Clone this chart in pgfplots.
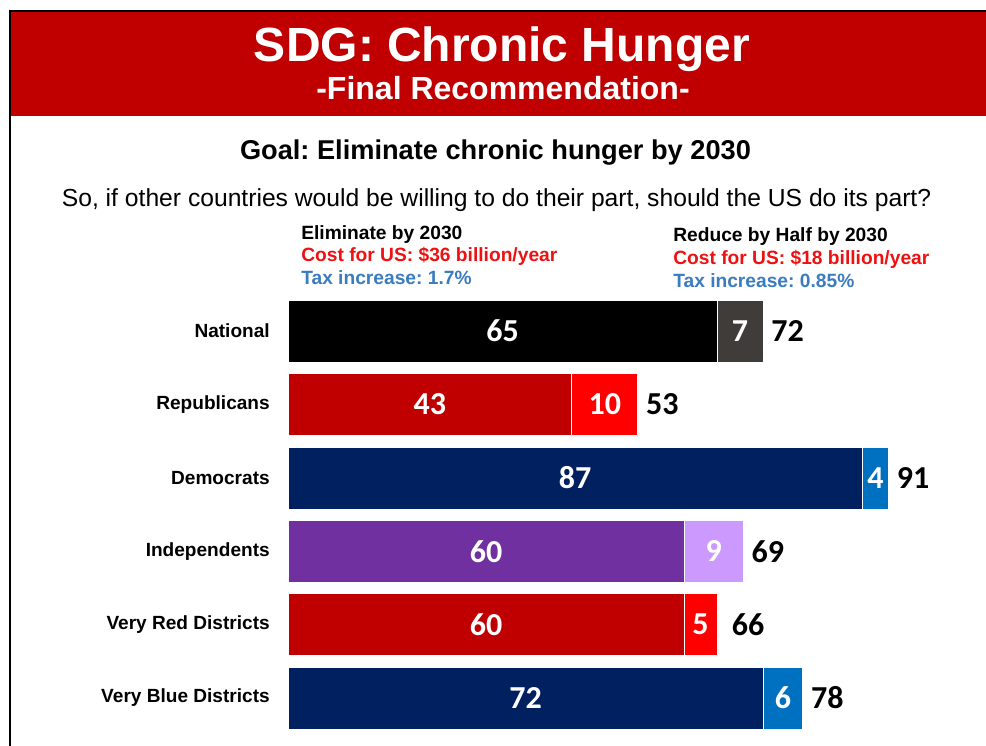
\documentclass[border=0pt]{standalone}
\usepackage{fontspec}
\setmainfont{Liberation Sans}
\newfontfamily\numfont{Carlito}
\usepackage{pgfplots}
\pgfplotsset{compat=1.18}
\frenchspacing
\definecolor{bannerred}{HTML}{C00000}
\definecolor{costred}{HTML}{EE1111}
\definecolor{taxblue}{HTML}{3B7CC0}
\definecolor{natd}{HTML}{000000}
\definecolor{natl}{HTML}{403C3A}
\definecolor{repd}{HTML}{C00000}
\definecolor{repl}{HTML}{FF0000}
\definecolor{demd}{HTML}{002060}
\definecolor{deml}{HTML}{0070C0}
\definecolor{indd}{HTML}{7030A0}
\definecolor{indl}{HTML}{CC99FF}
\pgfplotsset{
  rowaxis/.style={
    xbar stacked, scale only axis, width=495pt, height=55.05pt,
    xmin=0, xmax=100, ymin=-0.5, ymax=0.5, enlargelimits=false,
    bar width=46.5pt, axis line style={draw=none}, xtick=\empty, ytick={0},
    major tick length=0pt,
    /pgf/number format/assume math mode=true,
    yticklabel style={font=\fontsize{14.3}{17}\selectfont\bfseries, inner sep=0pt, xshift=-13.5pt},
    anchor=west, clip=false,
  },
  seg/.style={fill=#1, draw=white, line width=0.5pt, point meta=rawx, nodes near coords,
    every node near coord/.style={anchor=center, inner sep=0pt, text=white, font=\numfont\bfseries\fontsize{24}{24}\selectfont}},
  tot/.style={stack plots=false, draw=none, fill=none, point meta=rawx, nodes near coords,
    visualization depends on={rawx \as \rawx},
    every node near coord/.style={anchor=west, inner sep=0pt, xshift={2.475pt*\rawx+6pt}, text=black, font=\numfont\bfseries\fontsize{24}{24}\selectfont}},
}
\begin{document}
\begin{tikzpicture}
\path[use as bounding box, fill=white] (0,0) rectangle (739.5pt,559.5pt);
\fill[bannerred] (8.25pt,472.5pt) rectangle (739.5pt,550.5pt);
\draw[black, line width=1.5pt] (6.75pt,551.25pt) -- (739.5pt,551.25pt);
\draw[black, line width=1.5pt] (7.5pt,552pt) -- (7.5pt,0pt);
\node[anchor=base, inner sep=0pt, text=white, font=\fontsize{36}{40}\selectfont\bfseries] at (376.5pt,513pt) {SDG: Chronic Hunger};
\node[anchor=base, inner sep=0pt, text=white, font=\fontsize{24}{28}\selectfont\bfseries] at (377.25pt,484.5pt) {-Final Recommendation-};
\node[anchor=base, inner sep=0pt, font=\fontsize{20.4}{24}\selectfont\bfseries] at (371.6pt,439.5pt) {Goal: Eliminate chronic hunger by 2030};
\node[anchor=base, inner sep=0pt, font=\fontsize{18.5}{22}\selectfont] at (372.4pt,404.25pt) {So, if other countries would be willing to do their part, should the US do its part?};
\begin{scope}[every node/.style={anchor=base west, inner sep=0pt, font=\fontsize{14.4}{17}\selectfont\bfseries}]
\node at (225.75pt,379.5pt) {Eliminate by 2030};
\node[text=costred] at (225.75pt,363pt) {Cost for US: \$36 billion/year};
\node[text=taxblue] at (225.75pt,345.75pt) {Tax increase: 1.7\%};
\node at (504.75pt,378pt) {Reduce by Half by 2030};
\node[text=costred] at (504.75pt,360.75pt) {Cost for US: \$18 billion/year};
\node[text=taxblue] at (504.75pt,343.5pt) {Tax increase: 0.85\%};
\end{scope}

\begin{axis}[rowaxis, at={(216pt,311.25pt)}, yticklabels={National}]
\addplot[seg=natd] coordinates {(65,0)};
\addplot[seg=natl] coordinates {(7,0)};
\addplot[tot] coordinates {(72,0)};
\end{axis}
\begin{axis}[rowaxis, at={(216pt,256.125pt)}, yticklabels={Republicans}]
\addplot[seg=repd] coordinates {(43,0)};
\addplot[seg=repl] coordinates {(10,0)};
\addplot[tot] coordinates {(53,0)};
\end{axis}
\begin{axis}[rowaxis, at={(216pt,201pt)}, yticklabels={Democrats}]
\addplot[seg=demd] coordinates {(87,0)};
\addplot[seg=deml] coordinates {(4,0)};
\addplot[tot] coordinates {(91,0)};
\end{axis}
\begin{axis}[rowaxis, at={(216pt,145.875pt)}, yticklabels={Independents}]
\addplot[seg=indd] coordinates {(60,0)};
\addplot[seg=indl] coordinates {(9,0)};
\addplot[tot] coordinates {(69,0)};
\end{axis}
\begin{axis}[rowaxis, at={(216pt,91.125pt)}, yticklabels={Very Red Districts}]
\addplot[seg=repd] coordinates {(60,0)};
\addplot[seg=repl] coordinates {(5,0)};
\addplot[tot] coordinates {(66,0)};
\end{axis}
\begin{axis}[rowaxis, at={(216pt,36pt)}, yticklabels={Very Blue Districts}]
\addplot[seg=demd] coordinates {(72,0)};
\addplot[seg=deml] coordinates {(6,0)};
\addplot[tot] coordinates {(78,0)};
\end{axis}
\end{tikzpicture}
\end{document}
